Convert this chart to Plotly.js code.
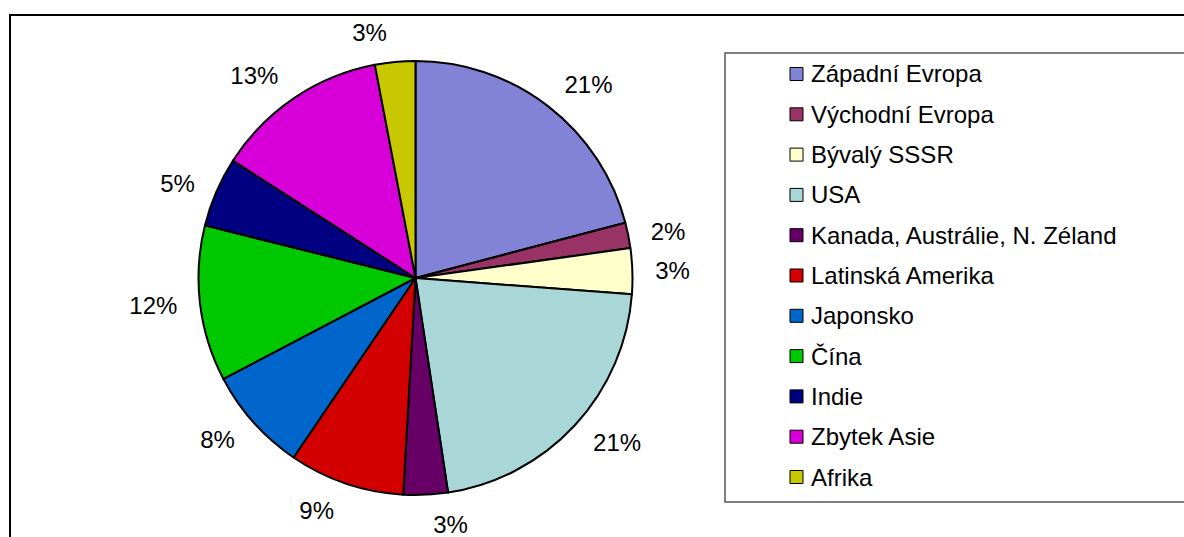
<!DOCTYPE html>
<html>
<head>
<meta charset="utf-8">
<script src="https://cdn.plot.ly/plotly-3.0.1.min.js"></script>
<style>
  html, body { margin: 0; padding: 0; background: #ffffff; }
  #chart { width: 1184px; height: 537px; }
</style>
</head>
<body>
<div id="chart"></div>
<script>
// ---- data ----
const categories = [
  "Západní Evropa",
  "Východní Evropa",
  "Bývalý SSSR",
  "USA",
  "Kanada, Austrálie, N. Zéland",
  "Latinská Amerika",
  "Japonsko",
  "Čína",
  "Indie",
  "Zbytek Asie",
  "Afrika"
];
const shares = [20.9, 1.9, 3.4, 21.4, 3.3, 8.6, 7.8, 11.6, 5.2, 12.9, 3.0];
const sliceColors = [
  "#8282d6", // Západní Evropa
  "#993366", // Východní Evropa
  "#ffffcc", // Bývalý SSSR
  "#a9d6d6", // USA
  "#660066", // Kanada...
  "#d20000", // Latinská Amerika
  "#0066cc", // Japonsko
  "#00c800", // Čína
  "#000080", // Indie
  "#d800d8", // Zbytek Asie
  "#c8c800"  // Afrika
];

// ---- layout helpers (pixel -> paper) ----
const W = 1184, H = 537;
const px = x => x / W;
const py = y => 1 - y / H;
const FONT = "Liberation Sans, Arial, sans-serif";
const FS = 24;
const CX = 415.5, CY = 278, R = 217, RLAB = 233;

// invisible, slightly larger pie that only carries the outside percentage labels
const labelTrace = {
  type: "pie",
  labels: categories,
  values: shares,
  sort: false,
  direction: "clockwise",
  rotation: 0,
  marker: { colors: categories.map(() => "rgba(0,0,0,0)"), line: { width: 0 } },
  textposition: "outside",
  texttemplate: "%{percent:.0%}",
  textfont: { family: FONT, size: FS, color: "#000000" },
  showlegend: false,
  hoverinfo: "skip",
  domain: { x: [px(CX - RLAB), px(CX + RLAB)], y: [py(CY + RLAB), py(CY - RLAB)] }
};

const pieTrace = {
  type: "pie",
  labels: categories,
  values: shares,
  sort: false,
  direction: "clockwise",
  rotation: 0,
  marker: { colors: sliceColors, line: { color: "#000000", width: 2 } },
  textinfo: "none",
  showlegend: false,
  hoverinfo: "label+percent",
  domain: { x: [px(CX - R), px(CX + R)], y: [py(CY + R), py(CY - R)] }
};

// ---- manual legend built from categories/colors ----
const shapes = [
  // outer chart frame (right/bottom edges lie outside the view)
  { type: "rect", xref: "paper", yref: "paper",
    x0: px(10), x1: px(1200), y0: py(560), y1: py(15),
    line: { color: "#000000", width: 2 }, fillcolor: "rgba(0,0,0,0)" },
  // legend box
  { type: "rect", xref: "paper", yref: "paper",
    x0: px(725), x1: px(1200), y0: py(502), y1: py(53),
    line: { color: "#555555", width: 1.5 }, fillcolor: "rgba(0,0,0,0)" }
];
const annotations = [];
const legTop = 74, legStep = 40.3, sq = 13;
categories.forEach((name, i) => {
  const cy = legTop + i * legStep;
  shapes.push({
    type: "rect", xref: "paper", yref: "paper",
    x0: px(790), x1: px(790 + sq), y0: py(cy + sq / 2), y1: py(cy - sq / 2),
    fillcolor: sliceColors[i], line: { color: "#000000", width: 1 }
  });
  annotations.push({
    xref: "paper", yref: "paper", x: px(809), y: py(cy),
    xanchor: "left", yanchor: "middle", showarrow: false,
    text: name, font: { family: FONT, size: FS, color: "#000000" }
  });
});

const layout = {
  width: W, height: H,
  margin: { l: 0, r: 0, t: 0, b: 0 },
  paper_bgcolor: "#ffffff",
  plot_bgcolor: "#ffffff",
  showlegend: false,
  shapes: shapes,
  annotations: annotations,
  font: { family: FONT }
};

Plotly.newPlot("chart", [labelTrace, pieTrace], layout, { displayModeBar: false, staticPlot: true });
</script>
</body>
</html>
